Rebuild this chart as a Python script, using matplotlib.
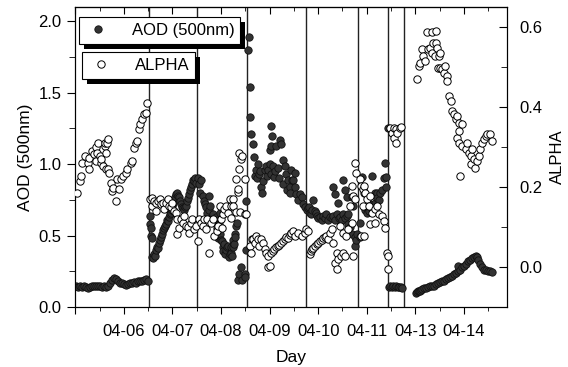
import numpy as np
import matplotlib
matplotlib.use("Agg")
from matplotlib import pyplot as plt
from matplotlib.ticker import MultipleLocator, FormatStrFormatter
from matplotlib.lines import Line2D
from matplotlib.patches import Rectangle
from matplotlib.transforms import IdentityTransform

plt.rcParams['font.family'] = ['Liberation Sans', 'DejaVu Sans']

# x = day index on the compressed time axis (04-12 is missing)
day_labels = ['', '04-06', '04-07', '04-08', '04-09', '04-10', '04-11', '04-13', '04-14']
breaks = [1.52, 2.50, 3.53, 4.75, 5.82, 6.44, 6.77]

# AOD (500nm), (day, value)
aod_0405 = [(0.01, 0.145), (0.05, 0.14), (0.09, 0.145), (0.14, 0.14), (0.18, 0.145), (0.22, 0.14),
            (0.26, 0.135), (0.30, 0.14), (0.34, 0.145), (0.38, 0.15), (0.42, 0.145), (0.47, 0.15),
            (0.51, 0.145), (0.55, 0.14), (0.59, 0.145), (0.63, 0.14), (0.67, 0.15), (0.71, 0.17),
            (0.75, 0.19), (0.79, 0.20), (0.84, 0.195), (0.88, 0.185), (0.92, 0.17), (0.96, 0.165),
            (1.00, 0.16), (1.04, 0.155), (1.08, 0.16), (1.12, 0.165), (1.17, 0.17), (1.21, 0.175),
            (1.25, 0.17), (1.29, 0.18), (1.33, 0.185), (1.37, 0.185), (1.41, 0.19), (1.45, 0.195),
            (1.49, 0.185)]
aod_0406 = [(1.53, 0.64), (1.54, 0.58), (1.55, 0.55), (1.56, 0.50), (1.57, 0.48), (1.58, 0.35),
            (1.60, 0.34), (1.62, 0.37), (1.64, 0.36), (1.66, 0.40), (1.68, 0.42), (1.70, 0.41),
            (1.72, 0.45), (1.74, 0.47), (1.76, 0.49), (1.78, 0.51), (1.80, 0.54), (1.82, 0.55),
            (1.84, 0.57), (1.86, 0.58), (1.88, 0.61), (1.90, 0.60), (1.92, 0.63), (1.94, 0.65),
            (1.96, 0.66), (1.98, 0.68), (2.00, 0.71), (2.02, 0.73), (2.04, 0.75), (2.06, 0.77),
            (2.08, 0.79), (2.10, 0.80), (2.12, 0.78), (2.14, 0.77), (2.16, 0.74), (2.18, 0.72),
            (2.20, 0.70), (2.22, 0.69), (2.24, 0.68), (2.26, 0.70), (2.28, 0.71), (2.30, 0.74),
            (2.32, 0.76), (2.34, 0.79), (2.36, 0.82), (2.38, 0.84), (2.40, 0.86), (2.42, 0.89),
            (2.44, 0.88), (2.46, 0.90), (2.48, 0.87)]
aod_0407 = [(2.52, 0.90), (2.55, 0.86), (2.57, 0.80), (2.59, 0.89), (2.62, 0.78), (2.64, 0.74),
            (2.66, 0.72), (2.69, 0.70), (2.72, 0.66), (2.75, 0.78), (2.76, 0.68), (2.77, 0.71),
            (2.79, 0.62), (2.83, 0.65), (2.86, 0.60), (2.89, 0.63), (2.92, 0.55), (2.94, 0.48),
            (2.96, 0.58), (2.97, 0.51), (2.98, 0.66), (3.00, 0.47), (3.01, 0.46), (3.04, 0.42),
            (3.05, 0.39), (3.07, 0.44), (3.09, 0.37), (3.11, 0.40), (3.12, 0.42), (3.14, 0.43),
            (3.16, 0.35), (3.18, 0.37), (3.20, 0.38), (3.21, 0.42), (3.23, 0.36), (3.24, 0.47),
            (3.25, 0.42), (3.27, 0.44), (3.28, 0.51), (3.29, 0.49), (3.31, 0.57), (3.32, 0.59),
            (3.35, 0.19), (3.38, 0.23), (3.42, 0.28), (3.43, 0.19), (3.49, 0.23), (3.50, 0.21),
            (3.52, 0.40), (3.52, 0.74)]
aod_0408 = [(3.57, 1.89), (3.56, 1.80), (3.59, 1.54), (3.60, 1.33), (3.62, 1.21), (3.66, 1.14),
            (3.68, 1.05), (3.70, 0.92), (3.72, 0.96), (3.74, 0.90), (3.76, 1.00), (3.79, 0.93),
            (3.80, 0.95), (3.83, 0.84), (3.85, 0.80), (3.87, 0.88), (3.90, 0.96), (3.93, 0.99),
            (3.95, 0.92), (3.97, 0.96), (4.00, 1.00), (4.00, 1.10), (4.02, 0.93), (4.03, 1.13),
            (4.03, 1.27), (4.05, 1.20), (4.07, 0.99), (4.10, 0.91), (4.12, 0.95), (4.14, 1.13),
            (4.17, 0.97), (4.19, 0.90), (4.21, 1.17), (4.24, 1.14), (4.27, 1.03), (4.28, 0.86),
            (4.31, 0.99), (4.34, 0.93), (4.36, 0.82), (4.38, 0.89), (4.41, 0.84), (4.43, 0.80),
            (4.45, 0.96), (4.46, 0.89), (4.48, 0.89), (4.52, 0.94), (4.52, 0.84), (4.55, 0.79),
            (4.59, 0.75), (4.62, 0.79), (4.66, 0.77), (4.69, 0.72), (4.73, 0.70)]
aod_0409 = [(4.77, 0.68), (4.79, 0.69), (4.81, 0.70), (4.83, 0.66), (4.86, 0.65), (4.88, 0.68),
            (4.90, 0.75), (4.93, 0.67), (4.95, 0.66), (4.97, 0.64), (5.00, 0.62), (5.04, 0.63),
            (5.07, 0.61), (5.10, 0.64), (5.14, 0.62), (5.17, 0.65), (5.21, 0.61), (5.24, 0.63),
            (5.28, 0.62), (5.31, 0.64), (5.31, 0.84), (5.34, 0.79), (5.35, 0.61), (5.38, 0.65),
            (5.41, 0.73), (5.42, 0.62), (5.45, 0.63), (5.49, 0.61), (5.52, 0.65), (5.52, 0.89),
            (5.55, 0.82), (5.56, 0.62), (5.59, 0.64), (5.59, 0.77), (5.61, 0.58), (5.62, 0.65),
            (5.65, 0.56), (5.69, 0.51), (5.69, 0.77), (5.72, 0.71), (5.76, 0.49), (5.76, 0.43),
            (5.79, 0.47), (5.81, 0.51)]
aod_0410 = [(5.86, 0.59), (5.86, 0.49), (5.90, 0.91), (5.94, 0.80), (5.97, 0.68), (6.00, 0.66),
            (6.04, 0.67), (6.06, 0.72), (6.10, 0.92), (6.11, 0.69), (6.14, 0.70), (6.17, 0.80),
            (6.18, 0.73), (6.21, 0.80), (6.22, 0.76), (6.25, 0.75), (6.28, 0.80), (6.31, 0.82),
            (6.35, 0.90), (6.38, 1.01), (6.39, 0.84), (6.40, 0.91), (6.43, 1.25)]
aod_0411 = [(6.46, 0.14), (6.49, 0.145), (6.52, 0.14), (6.55, 0.15), (6.58, 0.14), (6.61, 0.145),
            (6.64, 0.14), (6.67, 0.14), (6.70, 0.14), (6.73, 0.135)]
aod_0413 = [(7.01, 0.10), (7.03, 0.105), (7.05, 0.11), (7.07, 0.11), (7.09, 0.115), (7.11, 0.12),
            (7.14, 0.125), (7.18, 0.13), (7.22, 0.135), (7.26, 0.14), (7.30, 0.145), (7.34, 0.15),
            (7.38, 0.15), (7.42, 0.16), (7.47, 0.165), (7.51, 0.175), (7.55, 0.18), (7.59, 0.185),
            (7.63, 0.195), (7.67, 0.20), (7.71, 0.21), (7.75, 0.22), (7.80, 0.23), (7.84, 0.24),
            (7.88, 0.25), (7.88, 0.29), (7.92, 0.26), (7.96, 0.28), (8.00, 0.29), (8.04, 0.30),
            (8.08, 0.32), (8.12, 0.33), (8.17, 0.34), (8.21, 0.35), (8.25, 0.36), (8.27, 0.35),
            (8.29, 0.33), (8.33, 0.30), (8.37, 0.28), (8.41, 0.26), (8.45, 0.26), (8.50, 0.255),
            (8.54, 0.25), (8.58, 0.245)]

# Angstrom exponent, (day, value)
alpha_0405 = [(0.04, 0.186), (0.10, 0.215), (0.12, 0.228), (0.14, 0.26), (0.19, 0.277), (0.25, 0.26),
              (0.28, 0.244), (0.28, 0.273), (0.35, 0.29), (0.38, 0.283), (0.42, 0.265), (0.43, 0.30),
              (0.45, 0.286), (0.47, 0.31), (0.51, 0.278), (0.53, 0.26), (0.53, 0.27), (0.57, 0.253),
              (0.60, 0.302), (0.61, 0.31), (0.62, 0.286), (0.62, 0.244), (0.66, 0.311), (0.68, 0.32),
              (0.68, 0.245), (0.69, 0.236), (0.73, 0.211), (0.76, 0.19), (0.78, 0.198), (0.83, 0.165),
              (0.85, 0.219), (0.90, 0.194), (0.93, 0.219), (0.99, 0.228), (1.04, 0.236), (1.07, 0.244),
              (1.14, 0.26), (1.17, 0.265), (1.21, 0.298), (1.24, 0.311), (1.27, 0.315), (1.31, 0.344),
              (1.34, 0.357), (1.38, 0.369), (1.41, 0.382), (1.45, 0.386), (1.47, 0.411)]
alpha_0406 = [(1.54, 0.169), (1.57, 0.153), (1.58, 0.173), (1.62, 0.166), (1.66, 0.161), (1.67, 0.141),
              (1.70, 0.165), (1.74, 0.169), (1.77, 0.158), (1.80, 0.161), (1.83, 0.144), (1.86, 0.16),
              (1.90, 0.169), (1.93, 0.153), (1.96, 0.15), (2.00, 0.161), (2.04, 0.14), (2.07, 0.136),
              (2.10, 0.119), (2.10, 0.082), (2.14, 0.098), (2.17, 0.12), (2.21, 0.111), (2.24, 0.128),
              (2.28, 0.103), (2.31, 0.10), (2.34, 0.086), (2.38, 0.111), (2.41, 0.119), (2.45, 0.095),
              (2.48, 0.103)]
alpha_0407 = [(2.52, 0.065), (2.55, 0.119), (2.58, 0.11), (2.62, 0.103), (2.65, 0.119), (2.69, 0.094),
              (2.72, 0.12), (2.76, 0.036), (2.79, 0.111), (2.83, 0.119), (2.86, 0.078), (2.91, 0.09),
              (2.93, 0.103), (2.97, 0.153), (3.00, 0.12), (3.02, 0.098), (3.04, 0.132), (3.07, 0.144),
              (3.11, 0.153), (3.14, 0.136), (3.18, 0.17), (3.21, 0.123), (3.21, 0.153), (3.24, 0.169),
              (3.25, 0.153), (3.31, 0.137), (3.31, 0.22), (3.35, 0.187), (3.35, 0.194), (3.38, 0.244),
              (3.38, 0.286), (3.39, 0.137), (3.41, 0.269), (3.43, 0.278), (3.49, 0.219), (3.50, 0.132),
              (3.52, 0.132)]
alpha_0408 = [(3.59, 0.053), (3.62, 0.036), (3.64, 0.07), (3.66, 0.069), (3.70, 0.06), (3.72, 0.078),
              (3.76, 0.069), (3.79, 0.053), (3.83, 0.069), (3.86, 0.06), (3.90, 0.044), (3.93, 0.036),
              (3.96, 0.028), (3.97, 0.0), (4.00, 0.003), (4.03, 0.036), (4.06, 0.04), (4.10, 0.044),
              (4.13, 0.05), (4.17, 0.053), (4.20, 0.055), (4.24, 0.061), (4.27, 0.065), (4.31, 0.069),
              (4.34, 0.075), (4.38, 0.073), (4.41, 0.08), (4.44, 0.086), (4.45, 0.086), (4.48, 0.09),
              (4.52, 0.078), (4.59, 0.086), (4.66, 0.078), (4.73, 0.086)]
alpha_0409 = [(4.76, 0.094), (4.79, 0.09), (4.83, 0.032), (4.86, 0.04), (4.88, 0.044), (4.90, 0.048),
              (4.93, 0.052), (4.97, 0.057), (5.00, 0.06), (5.04, 0.065), (5.07, 0.068), (5.10, 0.073),
              (5.14, 0.075), (5.17, 0.078), (5.20, 0.069), (5.24, 0.086), (5.28, 0.094), (5.31, 0.061),
              (5.34, 0.011), (5.38, 0.036), (5.38, -0.006), (5.41, 0.019), (5.45, 0.103), (5.48, 0.028),
              (5.51, 0.036), (5.51, 0.086), (5.55, 0.028), (5.58, 0.078), (5.61, 0.094), (5.65, 0.153),
              (5.69, 0.111), (5.69, 0.203), (5.72, 0.178), (5.72, 0.028), (5.76, 0.261), (5.76, 0.169),
              (5.79, 0.236)]
alpha_0410 = [(5.86, 0.219), (5.89, 0.203), (5.89, 0.078), (5.93, 0.194), (5.93, 0.153), (5.94, 0.203),
              (5.94, 0.078), (5.97, 0.186), (6.00, 0.169), (6.04, 0.153), (6.07, 0.178), (6.07, 0.107),
              (6.11, 0.136), (6.18, 0.144), (6.18, 0.111), (6.21, 0.153), (6.25, 0.132), (6.31, 0.128),
              (6.35, 0.115), (6.38, 0.098), (6.41, 0.036), (6.43, 0.028), (6.43, -0.006)]
alpha_0411 = [(6.48, 0.348), (6.52, 0.336), (6.56, 0.348), (6.56, 0.323), (6.60, 0.344), (6.60, 0.311),
              (6.63, 0.336), (6.68, 0.348), (6.71, 0.35)]
alpha_0413 = [(7.03, 0.469), (7.07, 0.503), (7.10, 0.511), (7.14, 0.544), (7.17, 0.528), (7.20, 0.515),
              (7.24, 0.588), (7.27, 0.544), (7.31, 0.548), (7.34, 0.588), (7.34, 0.536), (7.37, 0.559),
              (7.41, 0.528), (7.42, 0.59), (7.42, 0.561), (7.45, 0.548), (7.46, 0.498), (7.48, 0.528),
              (7.52, 0.536), (7.52, 0.498), (7.55, 0.494), (7.59, 0.486), (7.62, 0.503), (7.66, 0.478),
              (7.66, 0.465), (7.69, 0.428), (7.73, 0.415), (7.76, 0.39), (7.80, 0.382), (7.83, 0.369),
              (7.86, 0.378), (7.86, 0.323), (7.90, 0.361), (7.90, 0.34), (7.90, 0.311), (7.93, 0.228),
              (7.97, 0.357), (7.97, 0.303), (8.04, 0.294), (8.07, 0.311), (8.10, 0.286), (8.14, 0.278),
              (8.14, 0.257), (8.17, 0.294), (8.21, 0.269), (8.24, 0.248), (8.27, 0.265), (8.31, 0.278),
              (8.34, 0.294), (8.38, 0.311), (8.41, 0.319), (8.45, 0.327), (8.48, 0.332), (8.55, 0.332),
              (8.58, 0.315)]

aod = np.array(aod_0405 + aod_0406 + aod_0407 + aod_0408 + aod_0409 + aod_0410 + aod_0411 + aod_0413)
alpha = np.array(alpha_0405 + alpha_0406 + alpha_0407 + alpha_0408 + alpha_0409 + alpha_0410
                 + alpha_0411 + alpha_0413)

fig = plt.figure(figsize=(5.68, 3.67), dpi=100)
ax = fig.add_axes([75.4 / 568, 60 / 367, 431.6 / 568, 300 / 367])
ax2 = ax.twinx()

for b in breaks:
    ax.axvline(b, color='#222222', lw=1.0, zorder=1)

filled = dict(marker='o', ls='none', ms=5.3, mfc='#333333', mec='#111111', mew=0.6)
hollow = dict(marker='o', ls='none', ms=5.3, mfc='white', mec='black', mew=0.7)
ax.plot(aod[:, 0], aod[:, 1], zorder=3, **filled)
ax2.plot(alpha[:, 0], alpha[:, 1], zorder=3, **hollow)

ax.set_xlim(0, 8.89)
ax.set_ylim(0, 2.1)
ax2.set_ylim(-0.1, 0.65)

ax.set_xticks(range(len(day_labels)))
ax.set_xticklabels(day_labels)
ax.xaxis.set_minor_locator(MultipleLocator(0.5))
ax.yaxis.set_major_locator(MultipleLocator(0.5))
ax.yaxis.set_minor_locator(MultipleLocator(0.25))
ax.yaxis.set_major_formatter(FormatStrFormatter('%.1f'))
ax2.yaxis.set_major_locator(MultipleLocator(0.2))
ax2.yaxis.set_minor_locator(MultipleLocator(0.1))
ax2.yaxis.set_major_formatter(FormatStrFormatter('%.1f'))

ax.tick_params(axis='x', which='both', direction='out', top=False, labelsize=12, pad=7)
ax.tick_params(axis='x', which='major', length=5)
ax.tick_params(axis='x', which='minor', length=3)
ax.tick_params(axis='y', which='major', direction='out', length=6, labelsize=12, pad=4)
ax.tick_params(axis='y', which='minor', direction='out', length=4)
ax2.tick_params(axis='y', which='major', direction='in', length=6, labelsize=12, pad=9)
ax2.tick_params(axis='y', which='minor', direction='in', length=4)

# top ticks pointing inward
sec = ax.secondary_xaxis('top')
sec.set_xticks(range(len(day_labels)))
sec.xaxis.set_minor_locator(MultipleLocator(0.5))
sec.tick_params(axis='x', which='both', direction='in', labeltop=False)
sec.tick_params(axis='x', which='major', length=5)
sec.tick_params(axis='x', which='minor', length=3)

ax.set_xlabel('Day', fontsize=12.5, labelpad=8)
ax.set_ylabel('AOD (500nm)', fontsize=12.5, labelpad=4)
ax2.set_ylabel('ALPHA', fontsize=12, labelpad=5)

legend_style = dict(loc='upper left', borderaxespad=0, fancybox=False, shadow=False, framealpha=1,
                    edgecolor='black', fontsize=12, handletextpad=1.2, borderpad=0.36,
                    handlelength=1.6)
leg1 = ax2.legend([Line2D([], [], **filled)], ['AOD (500nm)'], bbox_to_anchor=(0.008, 0.967),
                  **legend_style)
leg1.get_frame().set_linewidth(0.8)
ax2.add_artist(leg1)
leg2 = ax2.legend([Line2D([], [], **hollow)], ['ALPHA'], bbox_to_anchor=(0.015, 0.85),
                  **legend_style)
leg2.get_frame().set_linewidth(0.8)

# solid black drop shadows behind the legend boxes
fig.canvas.draw()
renderer = fig.canvas.get_renderer()
for leg in (leg1, leg2):
    bb = leg.get_frame().get_window_extent(renderer)
    ax2.add_artist(Rectangle((bb.x0 + 5, bb.y0 - 5), bb.width, bb.height, transform=IdentityTransform(),
                             facecolor='black', edgecolor='none', zorder=4.9, clip_on=False))

fig.savefig('out.png', dpi=100)
